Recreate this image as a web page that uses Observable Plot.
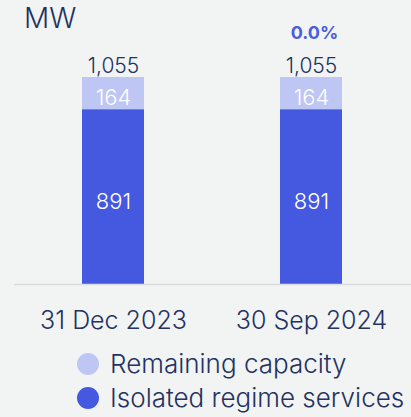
<!DOCTYPE html>
<html>
<head>
<meta charset="utf-8">
<script src="https://cdn.jsdelivr.net/npm/d3@7"></script>
<script src="https://cdn.jsdelivr.net/npm/@observablehq/plot@0.6"></script>
<style>
  html, body { margin: 0; padding: 0; background: #f2f4f4; }
  #wrap { position: relative; width: 411px; height: 417px; overflow: hidden; font-family: Inter, "Noto Sans", sans-serif; color: #23325f; font-weight: 300; }
  #mw { position: absolute; left: 24px; top: 4px; font-size: 28px; line-height: 28px; }
  #chart { position: absolute; left: 0; top: 0; }
  .legend { position: absolute; left: 77px; font-size: 26px; line-height: 26px; display: flex; align-items: center; white-space: nowrap; }
  .sw { width: 22px; height: 22px; border-radius: 50%; margin-right: 11px; }
</style>
</head>
<body>
<div id="wrap">
  <div id="chart"></div>
  <div id="mw">MW</div>
  <div id="legend"></div>
</div>
<script>
const categories = ["31 Dec 2023", "30 Sep 2024"];
const isolated = [891, 891];
const remaining = [164, 164];
const totals = [1055, 1055];
const changeLabels = ["", "0.0%"];
const seriesNames = ["Isolated regime services", "Remaining capacity"];
const seriesColors = ["#4458e0", "#bec6f3"];
const legendOrder = ["Remaining capacity", "Isolated regime services"];

const rows = [];
categories.forEach((c, i) => {
  rows.push({cat: c, series: seriesNames[0], value: isolated[i]});
  rows.push({cat: c, series: seriesNames[1], value: remaining[i]});
});
const totalRows = categories.map((c, i) => ({cat: c, total: totals[i], change: changeLabels[i]}));

const H = 345;
const chart = Plot.plot({
  width: 411,
  height: H,
  marginTop: 77,
  marginBottom: H - 284,
  marginLeft: 14,
  marginRight: 0,
  style: {fontFamily: "Inter, 'Noto Sans', sans-serif", background: "transparent", color: "#23325f", fontWeight: 300},
  x: {domain: categories, range: [82, 342], paddingInner: 0.687, paddingOuter: 0, label: null},
  y: {domain: [0, 1055], axis: null},
  color: {domain: seriesNames, range: seriesColors},
  marks: [
    Plot.barY(rows, Plot.stackY({x: "cat", y: "value", fill: "series", z: "series"})),
    Plot.text(rows, Plot.stackY({x: "cat", y: "value", z: "series", text: d => d3.format(",")(d.value), fill: "white", fontSize: 22, fontWeight: 300, dy: 4.5})),
    Plot.text(totalRows, {x: "cat", y: "total", text: d => d3.format(",")(d.total), fill: "#23325f", fontSize: 21, fontWeight: 300, lineAnchor: "bottom", dy: -4.3}),
    Plot.text(totalRows, {x: "cat", y: "total", text: "change", fill: "#4a5ce0", fontSize: 18, fontWeight: "bold", lineAnchor: "bottom", dy: -38.7, dx: 3}),
    Plot.ruleY([0], {stroke: "#d8dcdc", strokeWidth: 1.5}),
    Plot.axisX({tickSize: 0, tickPadding: 26.5, fontSize: 25, fontWeight: 300, color: "#23325f", label: null})
  ]
});
document.getElementById("chart").appendChild(chart);

const legend = document.getElementById("legend");
const legendY = [364, 398];
legendOrder.forEach((name, i) => {
  const row = document.createElement("div");
  row.className = "legend";
  row.style.top = (legendY[i] - 13) + "px";
  const sw = document.createElement("span");
  sw.className = "sw";
  sw.style.background = seriesColors[seriesNames.indexOf(name)];
  const label = document.createElement("span");
  label.textContent = name;
  row.appendChild(sw);
  row.appendChild(label);
  legend.appendChild(row);
});
</script>
</body>
</html>
